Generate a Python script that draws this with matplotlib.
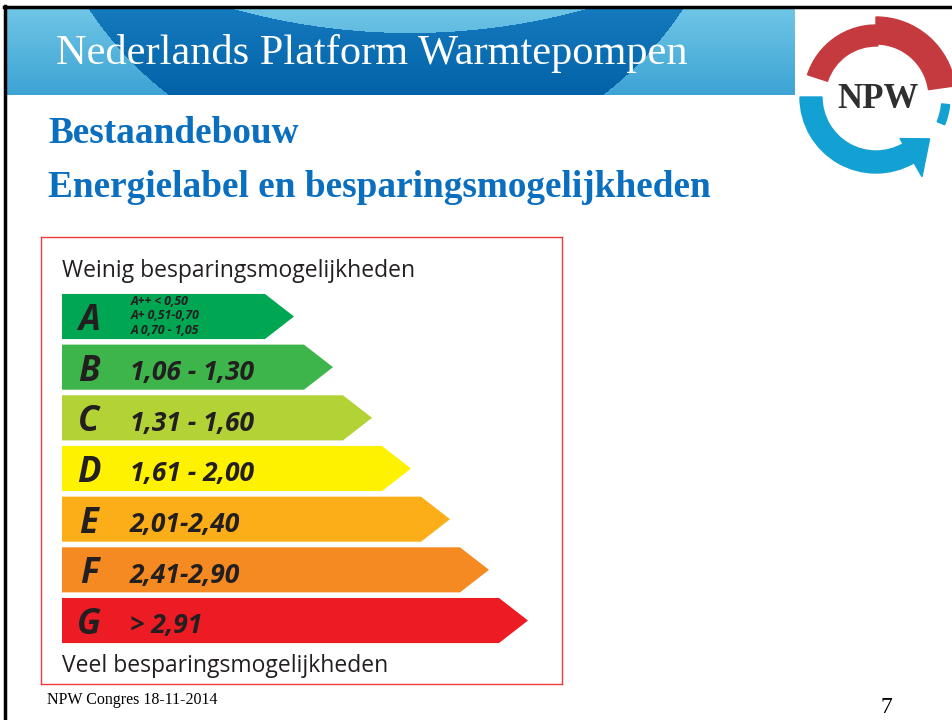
"""
NPW Congres - Energielabel en besparingsmogelijkheden
Slide 7: energy label bars (A..G) on a slide layout.
"""

import numpy as np
import matplotlib.pyplot as plt
from matplotlib.patches import Polygon, Wedge

# ── Label data ─────────────────────────────────────────────────
klassen = ['A', 'B', 'C', 'D', 'E', 'F', 'G']
bereik = ['', '1,06 - 1,30', '1,31 - 1,60', '1,61 - 2,00',
          '2,01-2,40', '2,41-2,90', '> 2,91']
a_sub = ['A++ < 0,50', 'A+ 0,51-0,70', 'A 0,70 - 1,05']
kleuren = ['#00A651', '#3DB54A', '#B2D235', '#FFF200',
           '#FBAE17', '#F58A22', '#ED1C24']

W, H = 952, 720
SANS = ['Open Sans', 'DejaVu Sans']
SERIF = ['Liberation Serif', 'DejaVu Serif']

fig = plt.figure(figsize=(W / 100, H / 100), dpi=100)

# ── Slide background (pixel coordinates) ───────────────────────
bg = fig.add_axes([0, 0, 1, 1])
bg.set_xlim(0, W)
bg.set_ylim(H, 0)
bg.axis('off')

# header band: light gradient with a darker swirl
hx0, hx1, hy0, hy1 = 6, 795, 8, 95
yy, xx = np.mgrid[hy0:hy1, hx0:hx1] + 0.5
t = ((yy - hy0) / (hy1 - hy0))[..., None]
light = np.array([112, 198, 230]) * (1 - t) + np.array([60, 163, 212]) * t
dark = np.array([22, 122, 190]) * (1 - t) + np.array([2, 98, 168]) * t
ring = (((xx - 386) ** 2 + (yy + 187) ** 2 < 356 ** 2)
        & ((xx - 410) ** 2 + (yy + 629) ** 2 > 662 ** 2))
img = np.where(ring[..., None], dark, light) / 255
bg.imshow(img, extent=(hx0, hx1, hy1, hy0), aspect='auto', zorder=1)

# slide border (top and left)
bg.plot([4, W], [6.5, 6.5], color='black', lw=2.5, zorder=3)
bg.plot([4.5, 4.5], [6, H], color='black', lw=2.5, zorder=3)

bg.text(56, 64, 'Nederlands Platform Warmtepompen', family=SERIF,
        fontsize=30.5, color='white', va='baseline', zorder=4)

# NPW logo
c = (876, 97)
red, blue = '#C43A3E', '#13A1D3'
bg.add_patch(Wedge(c, 72, 198, 272, width=21, color=red, zorder=2))
bg.add_patch(Wedge(c, 80, 270, 352, width=27, color=red, zorder=2))
bg.add_patch(Wedge(c, 76, 60, 180, width=22, color=blue, zorder=2))
th = np.deg2rad([60, 60, 38])
rr = np.array([48, 92, 68])
bg.add_patch(Polygon(np.c_[c[0] + rr * np.cos(th), c[1] + rr * np.sin(th)],
                     closed=True, color=blue, zorder=2))
bg.add_patch(Wedge(c, 74, 6, 22, width=8, color=blue, zorder=2))
bg.text(878, 99, 'NPW', family=SERIF, weight='bold', fontsize=25,
        color='#2f2f2f', ha='center', va='center', zorder=4)

# sub titles
blauw = '#0B6FBF'
bg.text(48, 143, 'Bestaandebouw', family=SERIF, weight='bold',
        fontsize=26.8, color=blauw, va='baseline')
bg.text(48, 197, 'Energielabel en besparingsmogelijkheden', family=SERIF,
        weight='bold', fontsize=26.8, color=blauw, va='baseline')

# footer
bg.text(47, 704, 'NPW Congres 18-11-2014', family=SERIF, fontsize=11.5,
        color='black', va='baseline')
bg.text(886, 713, '7', family=SERIF, fontsize=17, color='black',
        ha='center', va='baseline')

# ── Energy label ───────────────────────────────────────────────
fx0, fx1, fy0, fy1 = 41, 562, 237, 684        # red frame in pixels
ax = fig.add_axes([fx0 / W, 1 - fy1 / H, (fx1 - fx0) / W, (fy1 - fy0) / H])
row_px = 50.67
top_row = (fy0 - 316.5) / row_px
bot_row = (fy1 - 316.5) / row_px
ax.set_xlim(0, fx1 - fx0)
ax.set_ylim(bot_row, top_row)
ax.set_xticks([])
ax.set_yticks([])
for s in ax.spines.values():
    s.set_color('#EE3B3B')
    s.set_linewidth(1.0)

x0, L0, step, tip, half = 21, 203, 39, 29, 0.445
ink = '#231F20'
for i, (k, r, col) in enumerate(zip(klassen, bereik, kleuren)):
    L = L0 + step * i
    verts = [(x0, i - half), (x0 + L, i - half), (x0 + L + tip, i),
             (x0 + L, i + half), (x0, i + half)]
    ax.add_patch(Polygon(verts, closed=True, color=col, lw=0))
    ax.text(48, i + 0.265, k, family=SANS, weight='bold', style='italic',
            fontsize=25, color=ink, ha='center', va='baseline')
    if r:
        ax.text(89, i + 0.25, r, family=SANS, weight='bold', style='italic',
                fontsize=19, color=ink, ha='left', va='baseline')

for j, s in enumerate(a_sub):
    ax.text(90, (j - 1) * 0.29 - 0.01, s, family=SANS, weight='bold',
            style='italic', fontsize=8.8, color=ink, ha='left', va='center')

ax.text(21, (277 - 316.5) / row_px, 'Weinig besparingsmogelijkheden',
        family=SANS, fontsize=16.5, color=ink, va='baseline')
ax.text(21, (672 - 316.5) / row_px, 'Veel besparingsmogelijkheden',
        family=SANS, fontsize=16.5, color=ink, va='baseline')

fig.savefig('out.png', dpi=100)
